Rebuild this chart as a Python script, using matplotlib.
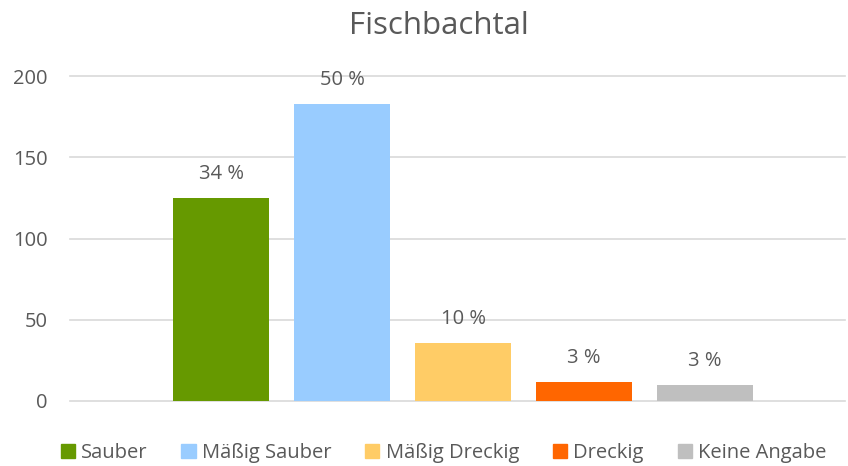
import matplotlib.pyplot as plt
from matplotlib.patches import Patch

# Data
categories = ['Sauber', 'Mäßig Sauber', 'Mäßig Dreckig', 'Dreckig', 'Keine Angabe']
counts = [125, 183, 36, 12, 10]
labels = ['34 %', '50 %', '10 %', '3 %', '3 %']
colors = ['#669900', '#99CCFF', '#FFCC66', '#FF6600', '#BFBFBF']
yticks = [0, 50, 100, 150, 200]

plt.rcParams['font.family'] = ['Open Sans', 'DejaVu Sans']
text_color = '#595959'

fig = plt.figure(figsize=(8.48, 4.66), dpi=100)
ax = fig.add_axes([70 / 848, 1 - 401 / 466, 1 - 70 / 848 - 0.003, (401 - 76) / 466])

x = list(range(len(categories)))
bars = ax.bar(x, counts, width=0.793, color=colors, zorder=3)

for b, lab in zip(bars, labels):
    ax.annotate(lab, (b.get_x() + b.get_width() / 2, b.get_height()),
                xytext=(0, 10), textcoords='offset points',
                ha='center', va='bottom', fontsize=14.5, color=text_color)

ax.set_ylim(0, 200)
ax.set_xlim(-1.248, 5.16)
ax.set_yticks(yticks)
ax.set_xticks([])
ax.tick_params(axis='y', length=0, pad=16, labelsize=14.5, labelcolor=text_color)
ax.grid(axis='y', color='#D9D9D9', linewidth=1.2, zorder=0)
for s in ax.spines.values():
    s.set_visible(False)
for gl in ax.get_ygridlines():
    gl.set_clip_on(False)

fig.text(0.518, 0.945, 'Fischbachtal', ha='center', va='center',
         fontsize=22.5, color=text_color)

handles = [Patch(color=c, label=cat) for c, cat in zip(colors, categories)]
fig.legend(handles=handles, loc='center', bbox_to_anchor=(0.523, 0.028), ncol=5,
           frameon=False, fontsize=14.5, labelcolor=text_color,
           handlelength=0.7, handleheight=0.7, handletextpad=0.3, columnspacing=1.7)

plt.savefig('out.png', dpi=100)
